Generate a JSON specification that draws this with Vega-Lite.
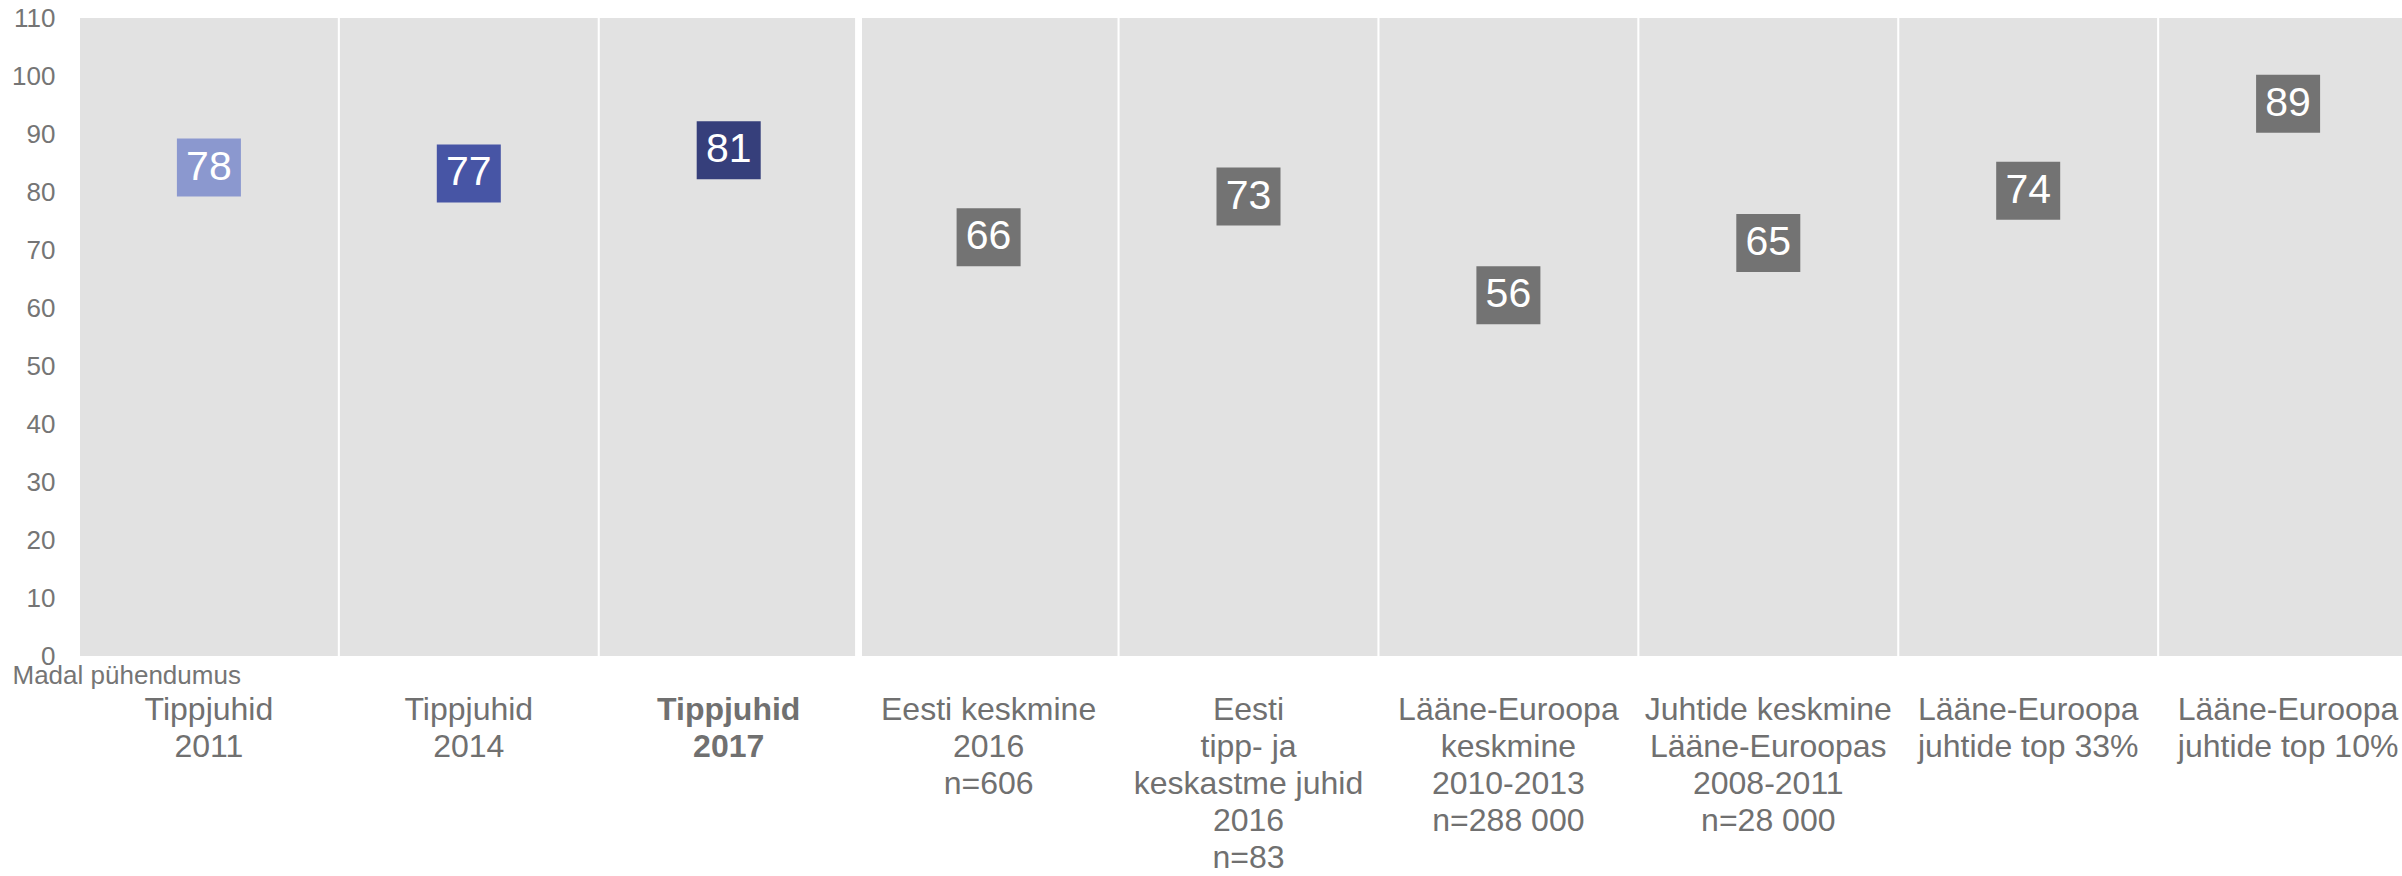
{
  "$schema": "https://vega.github.io/schema/vega-lite/v6.json",
  "autosize": {"type": "none"},
  "width": 2322,
  "height": 638,
  "padding": {"left": 80, "top": 18, "right": 0, "bottom": 220},
  "background": "white",
  "config": {
    "view": {"stroke": null},
    "font": "Liberation Sans",
    "title": {"font": "Liberation Sans"}
  },
  "title": {
    "text": "Kõrge pühendumus",
    "anchor": "start",
    "frame": "group",
    "orient": "top",
    "dx": -67,
    "offset": 2,
    "baseline": "alphabetic",
    "fontSize": 26,
    "fontWeight": "normal",
    "color": "#757575"
  },
  "data": {
    "values": [
      {"kategooria": "Tippjuhid|2011", "pühendumus": 78},
      {"kategooria": "Tippjuhid|2014", "pühendumus": 77},
      {"kategooria": "Tippjuhid|2017", "pühendumus": 81},
      {"kategooria": "Eesti keskmine|2016|n=606", "pühendumus": 66},
      {"kategooria": "Eesti|tipp- ja|keskastme juhid|2016|n=83", "pühendumus": 73},
      {"kategooria": "Lääne-Euroopa|keskmine|2010-2013|n=288 000", "pühendumus": 56},
      {"kategooria": "Juhtide keskmine|Lääne-Euroopas|2008-2011|n=28 000", "pühendumus": 65},
      {"kategooria": "Lääne-Euroopa|juhtide top 33%", "pühendumus": 74},
      {"kategooria": "Lääne-Euroopa|juhtide top 10%", "pühendumus": 89}
    ]
  },
  "encoding": {
    "x": {
      "field": "kategooria",
      "type": "nominal",
      "sort": null,
      "scale": {"range": [0, 2337], "paddingInner": 0.008, "paddingOuter": 0},
      "axis": {
        "title": null,
        "orient": "bottom",
        "domain": false,
        "ticks": false,
        "tickSize": 0,
        "labelAngle": 0,
        "labelAlign": "center",
        "labelBaseline": "top",
        "labelPadding": 38,
        "labelFontSize": 32,
        "labelLineHeight": 37,
        "labelColor": "#707070",
        "labelLimit": 0,
        "labelOverlap": false,
        "labelBound": false,
        "labelFontWeight": {"condition": {"test": "datum.value == 'Tippjuhid|2017'", "value": "bold"}, "value": "normal"},
        "labelExpr": "split(datum.label, '|')"
      }
    }
  },
  "layer": [
    {
      "mark": {"type": "bar", "color": "#E2E2E2"},
      "encoding": {
        "y": {
          "datum": 110,
          "type": "quantitative",
          "scale": {"domain": [0, 110], "nice": false},
          "axis": {
            "title": "Madal pühendumus",
            "titleAngle": 0,
            "titleAlign": "left",
            "titleBaseline": "alphabetic",
            "titleX": -68,
            "titleY": 665,
            "titleFontSize": 26,
            "titleFontWeight": "normal",
            "titleColor": "#757575",
            "values": [0, 10, 20, 30, 40, 50, 60, 70, 80, 90, 100, 110],
            "grid": false,
            "domain": false,
            "ticks": false,
            "tickSize": 0,
            "labelPadding": 25,
            "labelFontSize": 26,
            "labelColor": "#757575"
          }
        }
      }
    },
    {
      "mark": {"type": "rule", "color": "white", "strokeWidth": 6, "xOffset": -1},
      "encoding": {
        "x": {"datum": "Eesti keskmine|2016|n=606", "bandPosition": 0},
        "y": {"datum": 0, "type": "quantitative"},
        "y2": {"datum": 110}
      }
    },
    {
      "mark": {
        "type": "point",
        "shape": "M-1,-0.906L1,-0.906L1,0.906L-1,0.906Z",
        "size": 4096,
        "filled": true,
        "opacity": 1,
        "strokeWidth": 0,
        "yOffset": -36
      },
      "encoding": {
        "y": {"field": "pühendumus", "type": "quantitative"},
        "color": {
          "field": "kategooria",
          "type": "nominal",
          "sort": null,
          "legend": null,
          "scale": {"range": ["#8B98CF", "#4755A5", "#363F7B", "#737373", "#737373", "#737373", "#737373", "#737373", "#737373"]}
        }
      }
    },
    {
      "mark": {
        "type": "text",
        "color": "white",
        "fontSize": 41,
        "baseline": "middle",
        "align": "center",
        "yOffset": -36
      },
      "encoding": {
        "y": {"field": "pühendumus", "type": "quantitative"},
        "text": {"field": "pühendumus", "type": "quantitative"}
      }
    }
  ]
}
